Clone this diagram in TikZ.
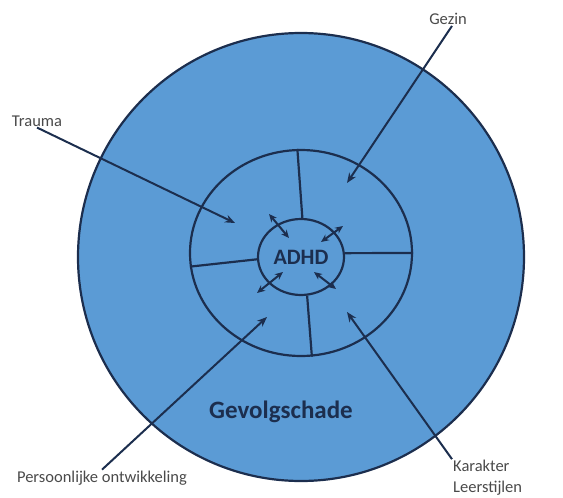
\documentclass[tikz,border=0pt]{standalone}
\usepackage{fontspec}
\setmainfont{Carlito}
\usetikzlibrary{shapes,
                 calc,
                 arrows.meta
  }
\definecolor{ringblue}{HTML}{5B9BD5}
\definecolor{ringline}{HTML}{1C2E4E}
\definecolor{labelgray}{HTML}{4A4A4A}

\begin{document}
\begin{tikzpicture}[
      x=1pt, y=-1pt,
      ring/.style={
                ellipse,
                draw=ringline,
                line width=2.2pt,
                fill=ringblue,
                inner sep=0pt
                },
      spoke/.style={draw=ringline, line width=2.2pt},
      pointer/.style={draw=ringline, line width=2pt, -{Stealth[length=10pt,width=8pt]}},
      twoway/.style={draw=ringline, line width=2pt,
                {Stealth[length=8pt,width=7pt]}-{Stealth[length=8pt,width=7pt]}},
      lbl/.style={text=labelgray, font=\fontsize{16.5}{21}\selectfont, inner sep=1pt}
]

\useasboundingbox (0,0) rectangle (563,498);

\node[ring, minimum width=446, minimum height=448] (gevolg) at (301,257) {};
\node[ring, minimum width=222, minimum height=206] (omgeving) at (301,253) {};
\node[ring, minimum width=86, minimum height=76,
      font=\fontsize{22}{24}\selectfont\bfseries, text=ringline] (adhd) at (301,257) {ADHD};

\node[font=\fontsize{25}{28}\selectfont\bfseries, text=ringline] (schade) at (281,412) {Gevolgschade};

% spaken tussen de ringen
\draw[spoke] (adhd.88) -- (omgeving.92);
\draw[spoke] (adhd.5) -- (omgeving.0);
\draw[spoke] (adhd.-81) -- (omgeving.-84);
\draw[spoke] (adhd.183) -- (omgeving.187);

% wisselwerking met ADHD
\coordinate (ul1) at (269,214); \coordinate (ul2) at (289,238);
\coordinate (ur1) at (343,226); \coordinate (ur2) at (321,242);
\coordinate (ll1) at (283,272); \coordinate (ll2) at (257,293);
\coordinate (lr1) at (314,272); \coordinate (lr2) at (336,289);
\draw[twoway] (ul1) -- (ul2);
\draw[twoway] (ur1) -- (ur2);
\draw[twoway] (ll1) -- (ll2);
\draw[twoway] (lr1) -- (lr2);

% factoren
\node[lbl] (trauma) at (37,121) {Trauma};
\node[lbl] (gezin) at (448,19) {Gezin};
\node[lbl] (persoon) at (102,478) {Persoonlijke ontwikkeling};
\node[lbl, align=left, anchor=west] (karakter) at (452,478) {Karakter\\Leerstijlen};

\coordinate (traumaend) at (235,223);
\coordinate (gezinend) at (347,183);
\coordinate (persoonend) at (267,317);
\coordinate (karakterend) at (347,312);

\draw[pointer] (trauma.south) -- (traumaend);
\draw[pointer] ($(gezin.south)+(4,0)$) -- (gezinend);
\draw[pointer] (persoon.north) -- (persoonend);
\draw[pointer] (karakter.north west) -- (karakterend);

\end{tikzpicture}
\end{document}
